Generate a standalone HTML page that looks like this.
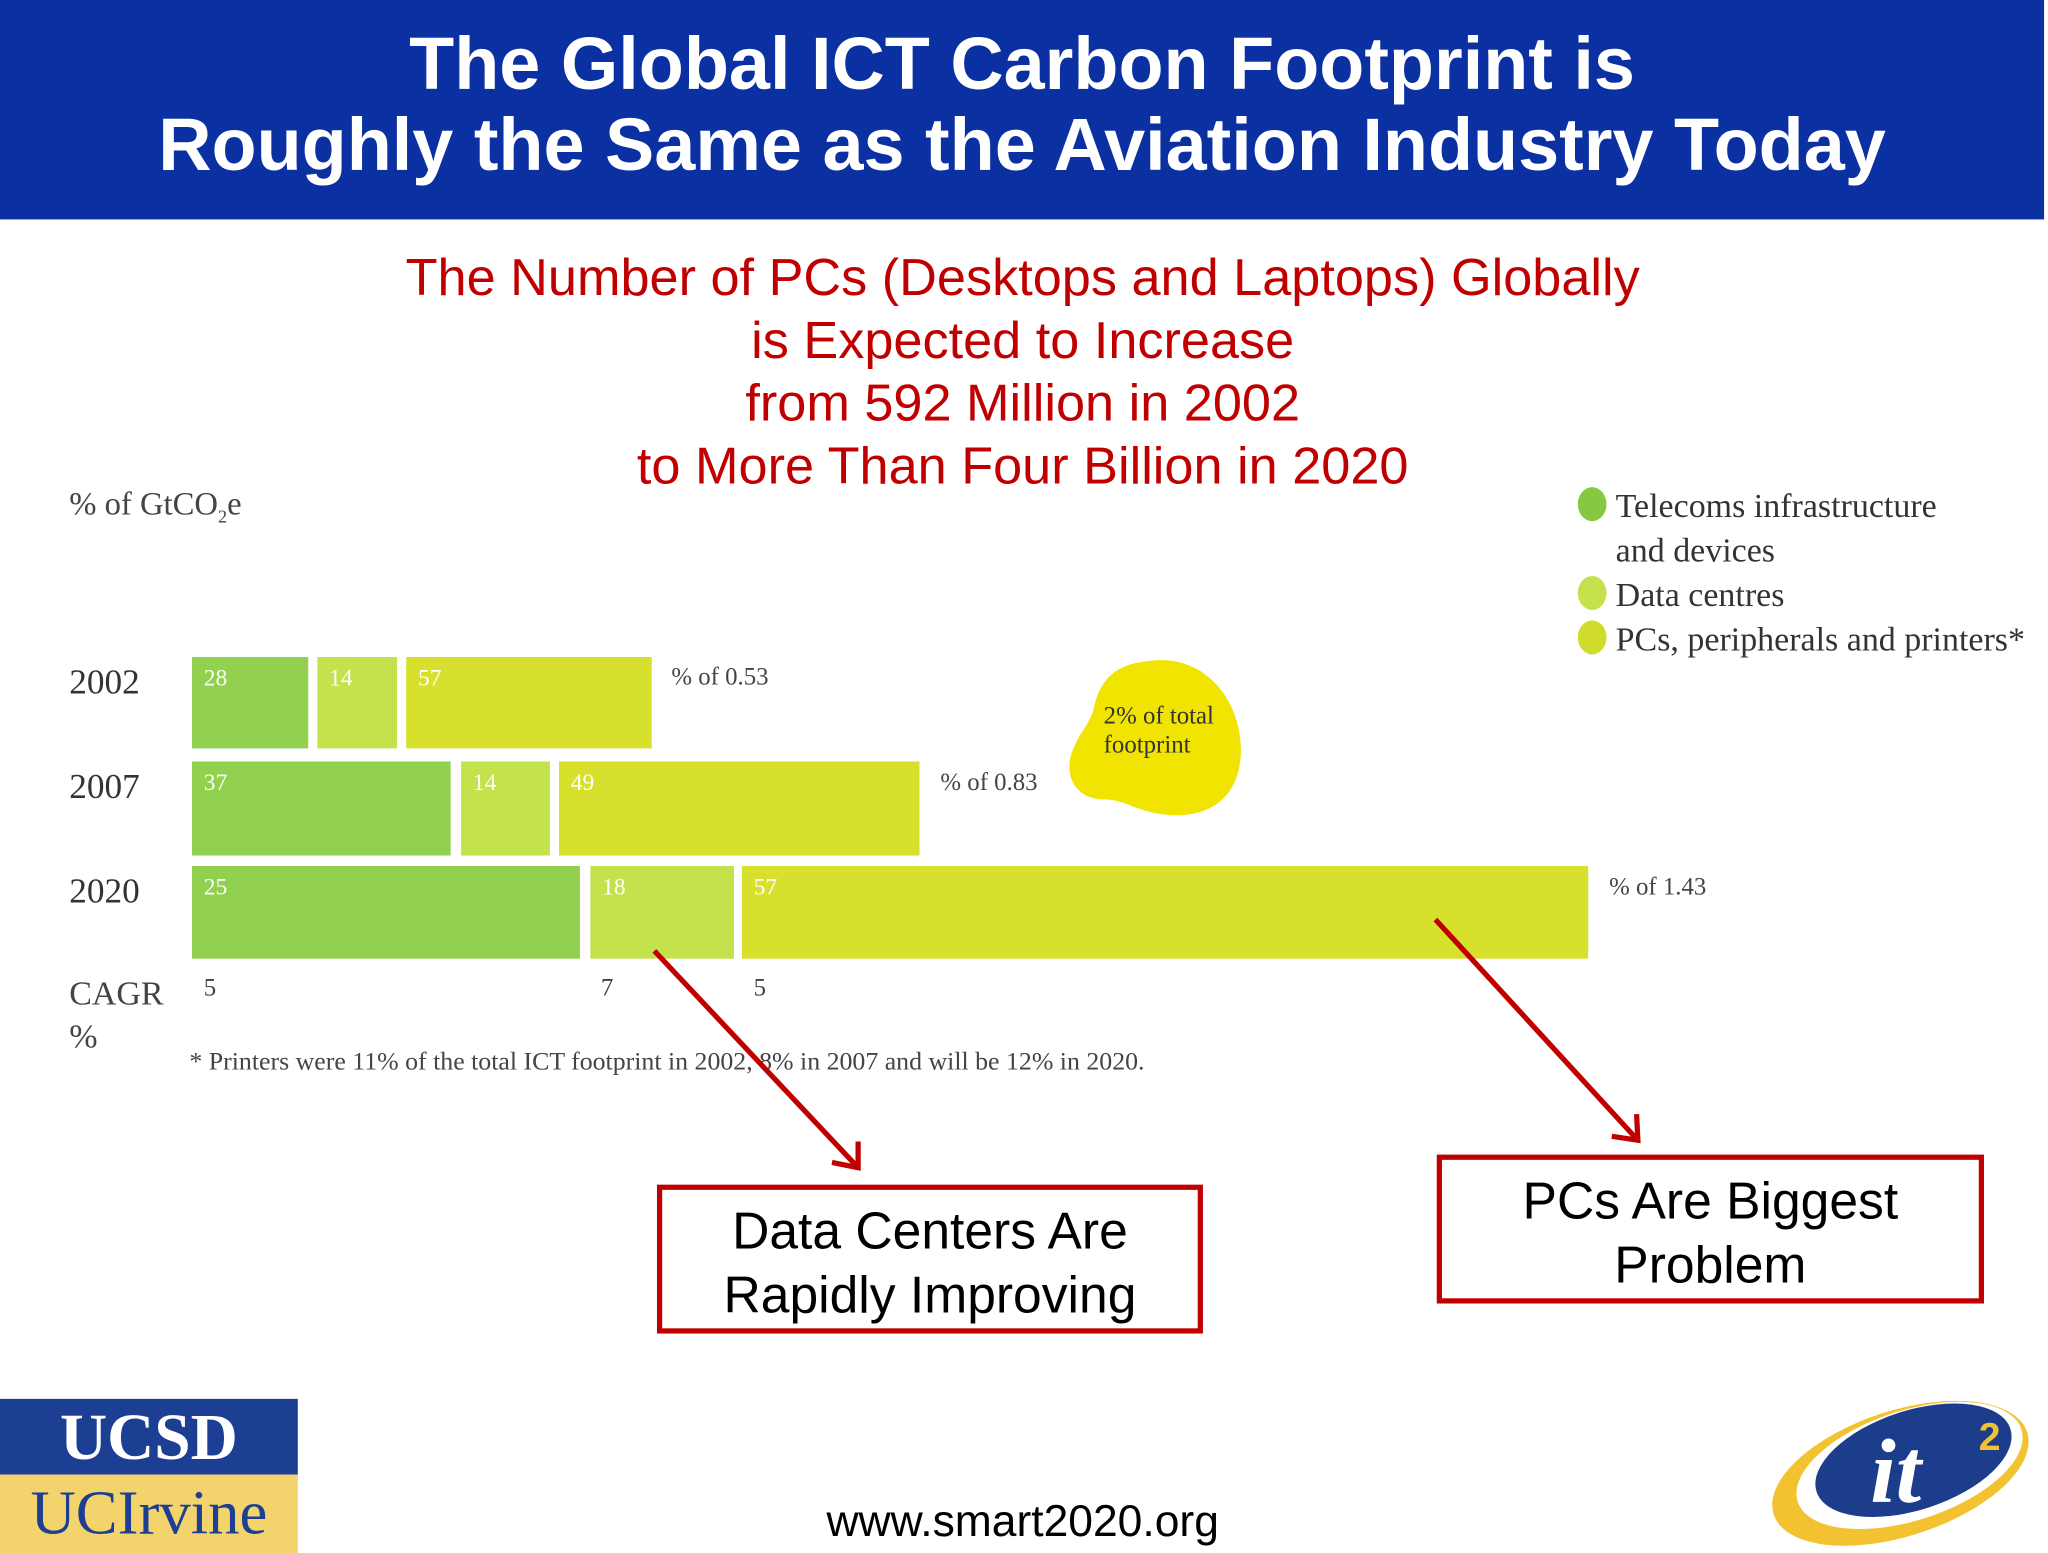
<!DOCTYPE html>
<html><head><meta charset="utf-8"><style>
html,body{margin:0;padding:0;background:#fff;overflow:hidden;width:2048px;height:1553px}
#s{position:absolute;left:0;top:0;width:1568px;height:1189px;transform:scale(1.30612);transform-origin:0 0;font-family:"Liberation Sans",sans-serif}
.a{position:absolute;white-space:nowrap}
.hd{left:0;width:1565px;text-align:center;color:#fff;font-weight:bold;font-size:56.5px;line-height:62px}
.rd{left:0;width:1566px;text-align:center;color:#c00000;font-size:40px;line-height:48px}
.sf{font-family:"Liberation Serif",serif;color:#444}
.b{position:absolute}
.g1{background:#92d050}.g2{background:#c3e24c}.g3{background:#d7e02c}
.n{position:absolute;left:9px;top:6px;color:#fff;font-family:"Liberation Serif",serif;font-size:18px}
.box{position:absolute;border:4px solid #c00000;box-sizing:border-box;text-align:center;font-size:39.5px;line-height:49px;color:#000;padding-top:8px}
</style></head><body><div id="s">
<div class="a" style="left:0;top:0;width:1565px;height:168px;background:#0a30a2"></div>
<div class="a hd" style="top:18px">The Global ICT Carbon Footprint is</div>
<div class="a hd" style="top:80px">Roughly the Same as the Aviation Industry Today</div>
<div class="a rd" style="top:189px">The Number of PCs (Desktops and Laptops) Globally</div>
<div class="a rd" style="top:237px">is Expected to Increase</div>
<div class="a rd" style="top:285px">from 592 Million in 2002</div>
<div class="a rd" style="top:333px">to More Than Four Billion in 2020</div>

<div class="a sf" style="left:53px;top:373px;font-size:25px">% of GtCO<sub style="font-size:14px">2</sub>e</div>

<div class="a sf" style="left:53px;top:507px;font-size:27px;color:#333">2002</div>
<div class="a sf" style="left:53px;top:587px;font-size:27px;color:#333">2007</div>
<div class="a sf" style="left:53px;top:667px;font-size:27px;color:#333">2020</div>

<div class="b g1" style="left:147px;top:503px;width:89px;height:70px"><span class="n">28</span></div>
<div class="b g2" style="left:243px;top:503px;width:61px;height:70px"><span class="n">14</span></div>
<div class="b g3" style="left:311px;top:503px;width:188px;height:70px"><span class="n">57</span></div>
<div class="a sf" style="left:514px;top:508px;font-size:19px">% of 0.53</div>

<div class="b g1" style="left:147px;top:583px;width:198px;height:72px"><span class="n">37</span></div>
<div class="b g2" style="left:353px;top:583px;width:68px;height:72px"><span class="n">14</span></div>
<div class="b g3" style="left:428px;top:583px;width:276px;height:72px"><span class="n">49</span></div>
<div class="a sf" style="left:720px;top:589px;font-size:19px">% of 0.83</div>

<div class="b g1" style="left:147px;top:663px;width:297px;height:71px"><span class="n">25</span></div>
<div class="b g2" style="left:452px;top:663px;width:110px;height:71px"><span class="n">18</span></div>
<div class="b g3" style="left:568px;top:663px;width:648px;height:71px"><span class="n">57</span></div>
<div class="a sf" style="left:1232px;top:669px;font-size:19px">% of 1.43</div>

<div class="a sf" style="left:53px;top:746px;font-size:26px">CAGR</div>
<div class="a sf" style="left:53px;top:779px;font-size:26px">%</div>
<div class="a sf" style="left:156px;top:746px;font-size:19px">5</div>
<div class="a sf" style="left:460px;top:746px;font-size:19px">7</div>
<div class="a sf" style="left:577px;top:746px;font-size:19px">5</div>
<div class="a sf" style="left:145px;top:802px;font-size:19.8px">* Printers were 11% of the total ICT footprint in 2002, 8% in 2007 and will be 12% in 2020.</div>

<svg class="a" style="left:0;top:0" width="1568" height="1189">
<path d="M880 506 C925 500 952 540 950 578 C948 612 925 626 895 624 C870 622 862 612 845 612 C825 612 815 596 820 578 C826 560 835 555 838 540 C844 515 860 508 880 506Z" fill="#f0e400"/>
<ellipse cx="1219" cy="386" rx="11" ry="13" fill="#86c940"/>
<ellipse cx="1219" cy="454" rx="11" ry="13" fill="#c3e24c"/>
<ellipse cx="1219" cy="488" rx="11" ry="13" fill="#d0dc2c"/>
<g stroke="#c00000" stroke-width="4" fill="none">
<line x1="501" y1="728" x2="657" y2="894"/>
<polyline points="637,890 657,894 657,874"/>
<line x1="1099" y1="704" x2="1254" y2="873"/>
<polyline points="1234,870 1254,873 1253,853"/>
</g>
<ellipse cx="1455" cy="1128" rx="102" ry="48" fill="#f2c230" transform="rotate(-18 1455 1128)"/>
<ellipse cx="1462" cy="1122" rx="90" ry="42" fill="#fff" transform="rotate(-18 1462 1122)"/>
<ellipse cx="1465" cy="1118" rx="78" ry="38" fill="#1c3c8c" transform="rotate(-18 1465 1118)"/>
<text x="1432" y="1150" font-family="Liberation Serif,serif" font-style="italic" font-weight="bold" font-size="70" fill="#fff">it</text>
<text x="1515" y="1110" font-family="Liberation Sans,sans-serif" font-weight="bold" font-size="30" fill="#f2c230">2</text>
</svg>
<div class="a sf" style="left:845px;top:538px;font-size:19px;color:#333;line-height:22px">2% of total<br>footprint</div>
<div class="a sf" style="left:1237px;top:371px;font-size:26px;line-height:34px;color:#333">Telecoms infrastructure<br>and devices<br>Data centres<br>PCs, peripherals and printers*</div>

<div class="box" style="left:503px;top:907px;width:418px;height:114px">Data Centers Are<br>Rapidly Improving</div>
<div class="box" style="left:1100px;top:884px;width:419px;height:114px">PCs Are Biggest<br>Problem</div>

<div class="a" style="left:0;top:1071px;width:228px;height:58px;background:#1c3f94;color:#fff;font-family:'Liberation Serif',serif;font-weight:bold;font-size:50px;line-height:58px;text-align:center">UCSD</div>
<div class="a" style="left:0;top:1129px;width:228px;height:60px;background:#f3d36b;color:#1c3f94;font-family:'Liberation Serif',serif;font-size:48px;line-height:60px;text-align:center">UCIrvine</div>
<div class="a" style="left:0;top:1146px;width:1566px;text-align:center;font-size:34px;color:#000">www.smart2020.org</div>
</div></body></html>
